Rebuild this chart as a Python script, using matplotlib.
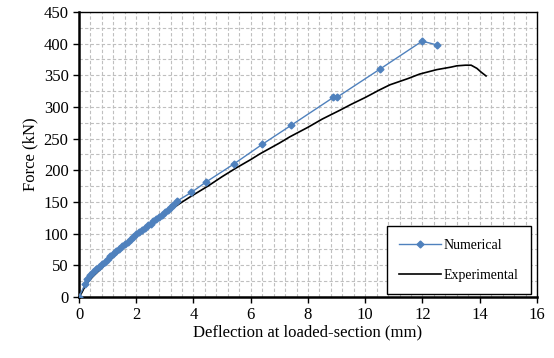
import matplotlib
matplotlib.use("Agg")
import matplotlib.pyplot as plt
from matplotlib.ticker import MultipleLocator

plt.rcParams['font.family'] = ['Liberation Serif', 'DejaVu Serif']

# Numerical (FE) results
num_x = [0.0, 0.21, 0.29, 0.4, 0.5, 0.6, 0.7, 0.8, 0.9, 1.0, 1.1, 1.2, 1.3, 1.4,
         1.5, 1.6, 1.7, 1.8, 1.9, 2.0, 2.1, 2.2, 2.3, 2.4, 2.5, 2.6, 2.7, 2.8,
         2.9, 3.0, 3.1, 3.2, 3.3, 3.41, 3.92, 4.42, 5.41, 6.40, 7.41, 8.88,
         9.0, 10.52, 11.99, 12.5]
num_y = [0, 20, 28, 34, 39, 44, 48, 52, 56, 60, 64, 68, 72, 76,
         80, 84, 87, 91, 95, 99, 102, 106, 109, 113, 116, 120, 123, 127,
         130, 134, 138, 142, 146, 151, 165, 181, 210, 241, 271, 315,
         315, 360, 404, 398]

# Experimental test
exp_x = [0.0, 0.1, 0.2, 0.3, 0.5, 0.8, 1.0, 1.5, 2.0, 2.5, 3.0, 3.5, 3.88,
         4.5, 5.0, 5.5, 6.0, 6.32, 7.0, 7.37, 8.0, 8.5, 9.12, 9.5, 10.0, 10.5,
         10.86, 11.5, 11.9, 12.5, 13.0, 13.2, 13.5, 13.7, 13.9, 14.05, 14.22]
exp_y = [0, 7, 16, 23, 33, 46, 55, 76, 97, 114, 131, 147, 158,
         175, 190, 204, 217, 226, 243, 253, 268, 281, 295, 304, 315, 327,
         335, 345, 352, 359, 363, 365, 366, 366, 361, 355, 349]

fig = plt.figure(figsize=(5.54, 3.58), dpi=100)
ax = fig.add_axes([0.1426, 0.1704, 0.8267, 0.7961])

ax.plot(num_x, num_y, color="#4F81BD", linewidth=1.0, marker="D",
        markersize=3.5, label="Numerical", zorder=3)
ax.plot(exp_x, exp_y, color="black", linewidth=1.2, label="Experimental", zorder=2)

ax.set_xlim(0, 16)
ax.set_ylim(0, 450)
ax.xaxis.set_major_locator(MultipleLocator(2))
ax.yaxis.set_major_locator(MultipleLocator(50))
ax.xaxis.set_minor_locator(MultipleLocator(0.4))
ax.yaxis.set_minor_locator(MultipleLocator(25))

ax.grid(which="both", color="#BFBFBF", linestyle=(0, (3, 2)), linewidth=0.8)
ax.set_axisbelow(True)

ax.tick_params(which="major", direction="out", length=4, width=1, labelsize=12)
ax.tick_params(which="minor", length=0)

for side in ["left", "bottom"]:
    ax.spines[side].set_linewidth(1.8)
for side in ["top", "right"]:
    ax.spines[side].set_linewidth(1.0)

ax.set_xlabel("Deflection at loaded-section (mm)", fontsize=12, labelpad=1)
ax.set_ylabel("Force (kN)", fontsize=12, labelpad=4)

leg = ax.legend(loc="lower right", fontsize=10, frameon=True, fancybox=False,
                edgecolor="black", framealpha=1, borderpad=0.9,
                labelspacing=1.2, handlelength=3, handletextpad=0.2,
                borderaxespad=0, bbox_to_anchor=(0.987, 0.01))
leg.get_frame().set_linewidth(1.0)

fig.savefig("out.png", dpi=100)
